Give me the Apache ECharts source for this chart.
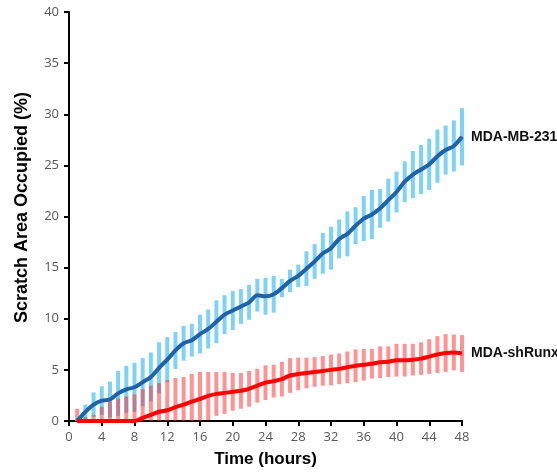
<!DOCTYPE html>
<html>
<head>
<meta charset="utf-8">
<script src="https://cdn.jsdelivr.net/npm/echarts@6/dist/echarts.min.js"></script>
<style>
html,body{margin:0;padding:0;background:#fff;}
#chart{width:557px;height:476px;}
</style>
</head>
<body>
<div id="chart"></div>
<script>
// Time points (hours)
const hours = [1,2,3,4,5,6,7,8,9,10,11,12,13,14,15,16,17,18,19,20,21,22,23,24,25,26,27,28,29,30,31,32,33,34,35,36,37,38,39,40,41,42,43,44,45,46,47,48];
// MDA-MB-231 mean and error
const blueMean = [0,0.9,1.6,2.0,2.1,2.7,3.1,3.3,3.8,4.3,5.2,6.0,6.9,7.6,7.9,8.5,9.0,9.7,10.4,10.8,11.2,11.6,12.3,12.2,12.4,13.0,13.7,14.2,14.9,15.6,16.4,16.9,17.8,18.3,19.1,19.8,20.2,20.8,21.6,22.4,23.4,24.1,24.6,25.1,25.9,26.5,26.9,27.8];
const blueErr = [0.3,0.7,1.2,1.4,1.75,2.2,2.3,2.4,2.35,2.4,2.5,2.2,1.8,1.7,1.6,1.9,1.9,2.1,1.9,1.9,1.7,1.7,1.6,1.8,1.8,0.9,1.1,1.1,1.7,1.7,2.0,2.1,1.9,2.2,1.8,2.2,2.4,1.9,2.1,2.0,2.0,2.3,2.4,2.5,2.6,2.4,2.5,2.8];
// MDA-shRunx mean and error
const redMean = [0,0,0,0,0,0,0,0,0.3,0.6,0.9,1.05,1.35,1.6,1.9,2.15,2.45,2.65,2.75,2.85,2.95,3.15,3.45,3.75,3.9,4.1,4.45,4.6,4.7,4.8,4.9,5.0,5.1,5.25,5.4,5.5,5.6,5.75,5.8,5.95,5.95,6.0,6.1,6.3,6.5,6.65,6.7,6.6];
const redErr = [1.2,0.4,0.6,1.4,1.9,2.2,2.4,2.6,2.8,2.85,2.8,2.95,2.85,2.7,2.7,2.65,2.35,2.15,2.05,1.85,1.75,1.75,1.65,1.7,1.6,1.7,1.7,1.6,1.5,1.45,1.45,1.5,1.5,1.55,1.6,1.55,1.45,1.55,1.5,1.6,1.6,1.55,1.6,1.7,1.8,1.85,1.75,1.8];

const seriesNames = ['MDA-MB-231', 'MDA-shRunx'];

function lineData(m){ return hours.map((h,i)=>[h, m[i]]); }
function errData(m,e){ return hours.map((h,i)=>[h, m[i], e[i]]); }

function errRender(color){
  return function(params, api){
    const x = api.value(0), m = api.value(1), e = api.value(2);
    const top = api.coord([x, m + e]);
    const bot = api.coord([x, Math.max(m - e, 0)]);
    return {
      type: 'rect',
      shape: {x: top[0] - 2, y: top[1], width: 4, height: bot[1] - top[1]},
      style: {fill: color}
    };
  };
}

const chart = echarts.init(document.getElementById('chart'), null, {renderer: 'canvas'});
chart.setOption({
  animation: false,
  backgroundColor: '#ffffff',
  grid: {left: 69, right: 95, top: 12, bottom: 55},
  xAxis: {
    type: 'value', min: 0, max: 48, interval: 4,
    name: 'Time (hours)', nameLocation: 'middle', nameGap: 30,
    nameTextStyle: {fontFamily: 'Liberation Sans, Arial', fontWeight: 'bold', fontSize: 17, color: '#000'},
    axisLine: {show: true, lineStyle: {color: '#000', width: 2}},
    axisTick: {show: true, inside: false, length: 5, lineStyle: {color: '#000', width: 2}},
    axisLabel: {margin: 10, fontFamily: 'Open Sans', fontSize: 13, color: '#595959'},
    splitLine: {show: false}
  },
  yAxis: {
    type: 'value', min: 0, max: 40, interval: 5,
    name: 'Scratch Area Occupied (%)', nameLocation: 'middle', nameGap: 38,
    nameTextStyle: {fontFamily: 'Liberation Sans, Arial', fontWeight: 'bold', fontSize: 18, color: '#000', padding: [0,0,0,18]},
    axisLine: {show: true, lineStyle: {color: '#000', width: 2}},
    axisTick: {show: true, inside: false, length: 5, lineStyle: {color: '#000', width: 2}},
    axisLabel: {margin: 10, fontFamily: 'Open Sans', fontSize: 13, color: '#595959'},
    splitLine: {show: false}
  },
  series: [
    {
      type: 'custom', name: seriesNames[0] + ' error',
      data: errData(blueMean, blueErr),
      encode: {x: 0, y: 1},
      renderItem: errRender('#7DD2F6'),
      z: 1
    },
    {
      type: 'custom', name: seriesNames[1] + ' error',
      data: errData(redMean, redErr),
      encode: {x: 0, y: 1},
      renderItem: errRender('rgba(255,40,40,0.5)'),
      z: 2
    },
    {
      type: 'line', name: seriesNames[0],
      data: lineData(blueMean),
      showSymbol: false, symbol: 'none', smooth: 0.3,
      lineStyle: {color: '#1F62A7', width: 4},
      endLabel: {show: true, formatter: seriesNames[0], distance: 9,
        fontFamily: 'Liberation Sans, Arial', fontWeight: 'bold', fontSize: 14, color: '#111'},
      z: 3
    },
    {
      type: 'line', name: seriesNames[1],
      data: lineData(redMean),
      showSymbol: false, symbol: 'none', smooth: 0.3,
      lineStyle: {color: '#FF0000', width: 4},
      endLabel: {show: true, formatter: seriesNames[1], distance: 9,
        fontFamily: 'Liberation Sans, Arial', fontWeight: 'bold', fontSize: 14, color: '#111'},
      z: 4
    }
  ]
});
</script>
</body>
</html>
